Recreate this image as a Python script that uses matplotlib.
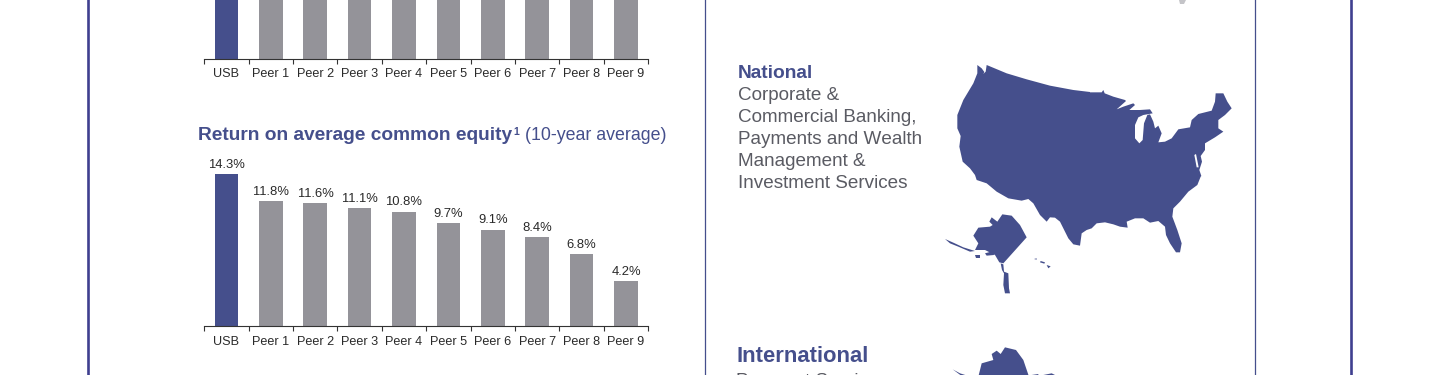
import numpy as np
import matplotlib
matplotlib.use('Agg')
import matplotlib.pyplot as plt
from matplotlib.patches import Polygon

plt.rcParams['font.family'] = ['Liberation Sans', 'DejaVu Sans']
plt.rcParams['text.kerning_factor'] = 6

BLUE = '#454f8c'
GRAY = '#949399'
FRAME = '#3f3f8f'
TEXT = '#2a2a2a'
BODY = '#5a5b63'

categories = ['USB', 'Peer 1', 'Peer 2', 'Peer 3', 'Peer 4', 'Peer 5', 'Peer 6', 'Peer 7', 'Peer 8', 'Peer 9']
# top chart is cropped by the picture, only the stubs of the bars show
top_values = [22.0, 17.0, 16.5, 16.0, 15.5, 15.0, 14.0, 13.0, 12.0, 10.0]
roe_values = [14.3, 11.8, 11.6, 11.1, 10.8, 9.7, 9.1, 8.4, 6.8, 4.2]

national_lines = ['Corporate &', 'Commercial Banking,', 'Payments and Wealth', 'Management &', 'Investment Services']

us_nw = [(112,15),(125,25),(133,36),(130,42),(137,35),(140,15),(200,40),(260,58),(330,77),(400,90),(450,96)]          # (940, 60)
us_ne = [(0,97),(35,97),(40,90),(44,100),(70,110),(105,120),(108,123),(80,148),(100,140),(130,130),(135,135),(118,150),
         (150,150),(180,148),(188,160),(160,165),(145,172),(135,195),(135,235),(148,250),(158,240),(162,190),(172,165),
         (180,163),(190,185),(195,205),(205,197),(215,220),(205,247),(225,245),(245,235),(265,208),(300,202),(305,180),
         (325,162),(365,152),(375,125),(377,100),(400,100),(412,125),(425,145),(405,165),(385,180),(385,205),(400,215),
         (375,232),(345,250),(345,270),(332,288),(336,305),(328,330),(334,348)]                                         # (1090, 60)
us_se = [(332,5),(322,30),(295,50),(270,80),(250,100),(247,125),(262,165),(275,205),(270,232),(258,232),(240,205),
         (228,180),(225,155),(205,138),(180,143),(160,130),(135,130),(110,140),(113,158),(90,155),(70,148),(45,142),
         (20,145),(5,160)]                                                                                              # (1090, 175)
us_sw = [(440,165),(425,175),(420,212),(400,208),(385,190),(360,140),(345,128),(330,127),(320,140),(300,120),(280,85),
         (265,72),(245,77),(205,70),(170,50),(140,25),(110,15),(105,0)]                                                # (940, 175)
us_west = [(105,345),(90,325),(68,305),(58,260),(62,228),(52,205),(52,165),(70,120),(100,70),(112,40)]                  # (940, 60)
bay = [(313,285),(318,282),(326,322),(320,322)]                                                                         # (1090, 60)
alaska = [(155,127),(172,140),(187,118),(215,122),(240,150),(260,187),(190,265),(178,262),(165,240),(135,225),
          (105,225),(115,205),(100,182),(115,158),(150,155),(158,150),(148,140)]                                        # (940, 175)
panhandle = [(182,265),(190,268),(192,290),(205,295),(207,340),(210,355),(195,355),(190,330),(192,295),(186,285)]
aleutians = [(15,192),(40,203),(70,217),(105,228),(90,230),(55,215),(30,205)]
kenai = [(135,235),(160,228),(162,240),(140,242)]
kodiak = [(105,240),(120,240),(120,248),(108,248)]
hawaii_big = [(320,270),(332,274),(325,280)]
hawaii_mid = [(302,258),(315,262),(313,266),(300,262)]
hawaii_small = [(282,252),(290,250),(290,254)]
# second map, (730, 340)
intl_alaska = [(745,110),(755,70),(790,60),(785,42),(800,32),(812,42),(825,22),(858,30),(880,60),(897,110)]
intl_chain = [(668,88),(690,100),(715,108),(695,108)]
intl_bits = [(905,105),(925,102),(925,108),(965,100),(975,105),(975,108),(965,108)]


def px(points, ox, oy):
    return [(ox + x / 3, oy + y / 3) for x, y in points]


def bar_panel(fig, top_px, bottom_px, values):
    ax = fig.add_axes([204.2 / 1440, 1 - bottom_px / 375, 444 / 1440, (bottom_px - top_px) / 375])
    x = np.arange(len(values))
    colors = [BLUE] + [GRAY] * (len(values) - 1)
    ax.bar(x, values, width=0.53, color=colors, linewidth=0)
    ax.set_xlim(-0.5, 9.5)
    for s in ['top', 'left', 'right']:
        ax.spines[s].set_visible(False)
    ax.spines['bottom'].set_color('#333333')
    ax.spines['bottom'].set_linewidth(0.8)
    ax.set_yticks([])
    ax.set_xticks(np.arange(-0.5, 10, 1))
    ax.set_xticklabels([])
    ax.tick_params(axis='x', which='major', length=3.6, width=0.8, color='#333333')
    ax.set_xticks(x, minor=True)
    ax.set_xticklabels(categories, minor=True, fontsize=9.1, color=TEXT, va='baseline')
    ax.tick_params(axis='x', which='minor', length=0, pad=13.4)
    ax.patch.set_alpha(0)
    return ax


fig = plt.figure(figsize=(14.4, 3.75), dpi=100, facecolor='white')

# page furniture in pixel coordinates
bg = fig.add_axes([0, 0, 1, 1])
bg.set_xlim(0, 1440)
bg.set_ylim(375, 0)
bg.axis('off')
bg.plot([88, 88], [0, 375], color=FRAME, lw=1.9)
bg.plot([1351, 1351], [0, 375], color=FRAME, lw=1.9)
bg.plot([705, 705], [0, 375], color=BLUE, lw=0.9)
bg.plot([1255, 1255], [0, 375], color=BLUE, lw=0.9)

# top chart, runs off the picture
ax_top = bar_panel(fig, 0, 58.6, top_values)
ax_top.set_ylim(0, 58.6 / 10.6)

# return on equity chart
ax_roe = bar_panel(fig, 150, 326, roe_values)
ax_roe.set_ylim(0, 176 / 10.6)
for i, v in enumerate(roe_values):
    ax_roe.annotate(f'{v}%', (i, v), xytext=(0, 4.4), textcoords='offset points',
                    ha='center', va='baseline', fontsize=9.4, color=TEXT)

bg.text(198.5, 140.5, 'Return on average common equity', fontsize=13.75, fontweight='bold', color=BLUE)
bg.text(513.5, 135, '1', fontsize=7.5, fontweight='bold', color=BLUE)
bg.text(525, 140.5, '(10-year average)', fontsize=12.75, color=BLUE)

bg.text(737.5, 77.5, 'National', fontsize=13.8, fontweight='bold', color=BLUE)
for i, line in enumerate(national_lines):
    bg.text(737.5, 100.5 + i * 22, line, fontsize=13.6, color=BODY)

bg.text(736, 361.5, 'International', fontsize=15.8, fontweight='bold', color=BLUE)
bg.text(736, 385.7, 'Payment Services', fontsize=13.6, color=BODY, clip_on=False)

mainland = px(us_nw, 940, 60) + px(us_ne, 1090, 60) + px(us_se, 1090, 175) + px(us_sw, 940, 175) + px(us_west, 940, 60)
bg.add_patch(Polygon(mainland, closed=True, facecolor=BLUE, edgecolor='none'))
bg.add_patch(Polygon(px(bay, 1090, 60), closed=True, facecolor='white', edgecolor='none'))
for shape in [alaska, panhandle, aleutians, kenai, kodiak, hawaii_big, hawaii_mid, hawaii_small]:
    bg.add_patch(Polygon(px(shape, 940, 175), closed=True, facecolor=BLUE, edgecolor='none'))
for shape in [intl_alaska, intl_chain, intl_bits]:
    bg.add_patch(Polygon(px(shape, 730, 340), closed=True, facecolor=BLUE, edgecolor='none'))
bg.add_patch(Polygon([(1179, 0), (1186, 0), (1184, 4), (1180, 4)], closed=True, facecolor='#c4c4c8', edgecolor='none'))

fig.savefig('out.png', dpi=100)
